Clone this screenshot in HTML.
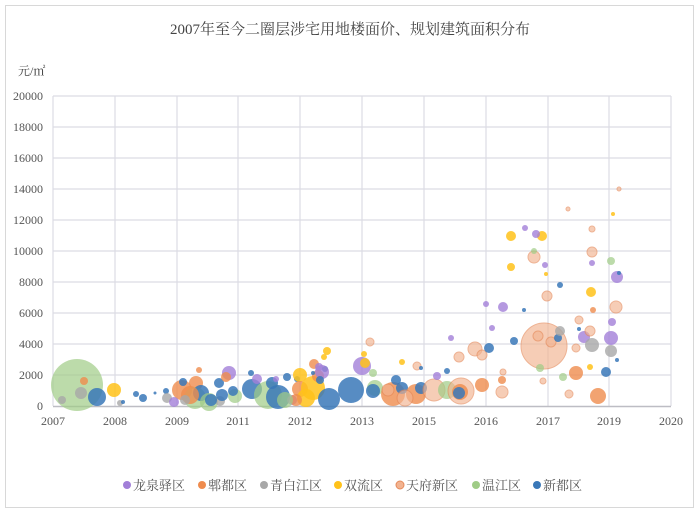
<!DOCTYPE html>
<html><head><meta charset="utf-8"><style>
body{margin:0;background:#fff;width:700px;height:512px;overflow:hidden;font-family:"Liberation Serif","Noto Serif CJK SC",serif;}
svg text{font-family:"Liberation Serif","Noto Serif CJK SC",serif;}
.p{fill:#a27fd8;opacity:.8}.o{fill:#ef8c4e;opacity:.8}.g{fill:#a8a8a8;opacity:.8}.y{fill:#ffc21a;opacity:.85}
.t{fill:#f2b390;opacity:.65;stroke:#e58a5a;stroke-width:1}.w{fill:#9fcc86;opacity:.7}.b{fill:#3a78b8;opacity:.85}
</style></head><body>
<svg width="700" height="512" xmlns="http://www.w3.org/2000/svg">
<rect x="5.5" y="5.5" width="688" height="502" fill="#fff" stroke="#d8d8d8"/>
<text x="350" y="34" text-anchor="middle" font-size="15" fill="#444">2007年至今二圈层涉宅用地楼面价、规划建筑面积分布</text>
<text x="18" y="75" font-size="12" fill="#444">元/㎡</text>
<g stroke="#dcdce4" stroke-width="1.2">
<line x1="53" y1="96" x2="671" y2="96"/><line x1="53" y1="127" x2="671" y2="127"/><line x1="53" y1="158" x2="671" y2="158"/><line x1="53" y1="189" x2="671" y2="189"/><line x1="53" y1="220" x2="671" y2="220"/><line x1="53" y1="251" x2="671" y2="251"/><line x1="53" y1="282" x2="671" y2="282"/><line x1="53" y1="313" x2="671" y2="313"/><line x1="53" y1="344" x2="671" y2="344"/><line x1="53" y1="375" x2="671" y2="375"/>
<line x1="53" y1="96" x2="53" y2="406"/><line x1="115" y1="96" x2="115" y2="406"/><line x1="177" y1="96" x2="177" y2="406"/><line x1="238" y1="96" x2="238" y2="406"/><line x1="300" y1="96" x2="300" y2="406"/><line x1="362" y1="96" x2="362" y2="406"/><line x1="424" y1="96" x2="424" y2="406"/><line x1="486" y1="96" x2="486" y2="406"/><line x1="548" y1="96" x2="548" y2="406"/><line x1="609" y1="96" x2="609" y2="406"/><line x1="671" y1="96" x2="671" y2="406"/>
</g>
<line x1="53" y1="406.5" x2="671" y2="406.5" stroke="#bdbdc4" stroke-width="1.5"/>
<g font-size="12" fill="#555" text-anchor="end">
<text x="43" y="100">20000</text><text x="43" y="131">18000</text><text x="43" y="162">16000</text><text x="43" y="193">14000</text><text x="43" y="224">12000</text><text x="43" y="255">10000</text><text x="43" y="286">8000</text><text x="43" y="317">6000</text><text x="43" y="348">4000</text><text x="43" y="379">2000</text><text x="43" y="410">0</text>
</g>
<g font-size="12" fill="#555" text-anchor="middle">
<text x="53" y="425">2007</text><text x="115" y="425">2008</text><text x="177" y="425">2009</text><text x="238" y="425">2011</text><text x="300" y="425">2012</text><text x="362" y="425">2013</text><text x="424" y="425">2015</text><text x="486" y="425">2016</text><text x="548" y="425">2017</text><text x="609" y="425">2019</text><text x="671" y="425">2020</text>
</g>
<g>
<circle class="w" cx="77" cy="385" r="26"/>
<circle class="g" cx="81" cy="393" r="6"/><circle class="o" cx="84" cy="381" r="4"/><circle class="g" cx="62" cy="400" r="4"/>
<circle class="b" cx="97" cy="397" r="9"/><circle class="y" cx="114" cy="390" r="7"/><circle class="g" cx="120" cy="403" r="3"/><circle class="b" cx="123" cy="402" r="2"/>
<circle class="b" cx="136" cy="394" r="3"/><circle class="b" cx="143" cy="398" r="4"/><circle class="b" cx="155" cy="393" r="1.5"/>
<circle class="b" cx="166" cy="391" r="3"/><circle class="g" cx="167" cy="398" r="5"/>
<circle class="o" cx="182" cy="390" r="10"/><circle class="b" cx="183" cy="382" r="4"/><circle class="o" cx="196" cy="383" r="7"/><circle class="o" cx="199" cy="370" r="3"/>
<circle class="w" cx="195" cy="398" r="11"/><circle class="p" cx="174" cy="402" r="5"/><circle class="b" cx="201" cy="393" r="8"/>
<circle class="o" cx="190" cy="395" r="9"/><circle class="w" cx="209" cy="402" r="9"/><circle class="g" cx="185" cy="400" r="5"/>
<circle class="g" cx="220" cy="401" r="5"/><circle class="b" cx="219" cy="383" r="5"/><circle class="b" cx="211" cy="400" r="6"/><circle class="b" cx="222" cy="395" r="6"/>
<circle class="p" cx="229" cy="373" r="7"/><circle class="o" cx="226" cy="377" r="5"/><circle class="w" cx="235" cy="396" r="7"/><circle class="b" cx="233" cy="391" r="5"/>
<circle class="b" cx="252" cy="389" r="10"/><circle class="b" cx="251" cy="373" r="3"/><circle class="p" cx="257" cy="379" r="5"/>
<circle class="w" cx="268" cy="395" r="14"/><circle class="b" cx="278" cy="397" r="12"/><circle class="b" cx="272" cy="383" r="6"/><circle class="p" cx="276" cy="379" r="3"/>
<circle class="b" cx="287" cy="377" r="4"/><circle class="b" cx="297" cy="379" r="3"/><circle class="p" cx="292" cy="400" r="5"/>
<circle class="y" cx="300" cy="375" r="7"/><circle class="o" cx="300" cy="389" r="8"/><circle class="y" cx="313" cy="388" r="12"/><circle class="o" cx="314" cy="364" r="5"/>
<circle class="y" cx="306" cy="398" r="9"/><circle class="o" cx="296" cy="400" r="6"/><circle class="w" cx="285" cy="400" r="8"/>
<circle class="p" cx="319" cy="367" r="4"/><circle class="b" cx="325" cy="369" r="3"/><circle class="y" cx="324" cy="357" r="3"/><circle class="y" cx="327" cy="351" r="4"/>
<circle class="o" cx="318" cy="376" r="6"/><circle class="p" cx="322" cy="372" r="7"/><circle class="b" cx="320" cy="380" r="4"/>
<circle class="b" cx="329" cy="399" r="11"/><circle class="b" cx="313" cy="373" r="2"/>
<circle class="b" cx="351" cy="390" r="13"/><circle class="w" cx="375" cy="388" r="8"/><circle class="b" cx="373" cy="391" r="7"/>
<circle class="p" cx="362" cy="366" r="9"/><circle class="y" cx="364" cy="354" r="3"/><circle class="y" cx="365" cy="363" r="5"/><circle class="w" cx="373" cy="373" r="4"/>
<circle class="t" cx="370" cy="342" r="4"/><circle class="o" cx="393" cy="394" r="12"/><circle class="t" cx="388" cy="390" r="6"/>
<circle class="b" cx="396" cy="380" r="5"/><circle class="b" cx="402" cy="388" r="6"/><circle class="y" cx="402" cy="362" r="3"/>
<circle class="o" cx="416" cy="394" r="10"/><circle class="t" cx="417" cy="366" r="4"/><circle class="b" cx="421" cy="388" r="6"/><circle class="b" cx="421" cy="368" r="2"/>
<circle class="t" cx="434" cy="390" r="11"/><circle class="p" cx="437" cy="376" r="4"/><circle class="b" cx="447" cy="371" r="3"/>
<circle class="w" cx="447" cy="390" r="9"/><circle class="t" cx="405" cy="398" r="8"/>
<circle class="t" cx="461" cy="391" r="13"/><circle class="o" cx="460" cy="392" r="8"/><circle class="b" cx="459" cy="393" r="6"/><circle class="p" cx="451" cy="338" r="3"/>
<circle class="t" cx="459" cy="357" r="5"/><circle class="t" cx="475" cy="349" r="7"/><circle class="t" cx="482" cy="355" r="5"/>
<circle class="o" cx="482" cy="385" r="7"/><circle class="b" cx="489" cy="348" r="5"/><circle class="p" cx="492" cy="328" r="3"/>
<circle class="t" cx="502" cy="392" r="6"/><circle class="o" cx="502" cy="380" r="4"/><circle class="t" cx="503" cy="372" r="3"/>
<circle class="p" cx="503" cy="307" r="5"/><circle class="p" cx="486" cy="304" r="3"/><circle class="b" cx="514" cy="341" r="4"/>
<circle class="y" cx="511" cy="267" r="4"/><circle class="y" cx="511" cy="236" r="5"/>
<circle class="t" cx="544" cy="346" r="23"/><circle class="t" cx="538" cy="336" r="5"/><circle class="t" cx="551" cy="342" r="5"/><circle class="w" cx="540" cy="368" r="4"/><circle class="b" cx="558" cy="338" r="4"/><circle class="g" cx="560" cy="331" r="5"/>
<circle class="t" cx="534" cy="257" r="6"/><circle class="w" cx="534" cy="251" r="3"/><circle class="p" cx="525" cy="228" r="3"/><circle class="y" cx="542" cy="236" r="5"/><circle class="p" cx="536" cy="234" r="4"/>
<circle class="p" cx="545" cy="265" r="3"/><circle class="y" cx="546" cy="274" r="2"/><circle class="b" cx="560" cy="285" r="3"/><circle class="t" cx="547" cy="296" r="5"/>
<circle class="b" cx="524" cy="310" r="2"/><circle class="t" cx="543" cy="381" r="3"/><circle class="t" cx="568" cy="209" r="2"/>
<circle class="t" cx="576" cy="348" r="4"/><circle class="o" cx="576" cy="373" r="7"/><circle class="t" cx="569" cy="394" r="4"/><circle class="w" cx="563" cy="377" r="4"/>
<circle class="t" cx="579" cy="320" r="4"/><circle class="b" cx="579" cy="329" r="2"/><circle class="p" cx="584" cy="337" r="6"/><circle class="g" cx="592" cy="345" r="7"/><circle class="t" cx="590" cy="331" r="5"/>
<circle class="t" cx="592" cy="252" r="5"/><circle class="p" cx="592" cy="263" r="3"/><circle class="y" cx="591" cy="292" r="5"/><circle class="o" cx="593" cy="310" r="3"/><circle class="y" cx="590" cy="367" r="3"/>
<circle class="o" cx="598" cy="396" r="8"/><circle class="t" cx="592" cy="229" r="3"/>
<circle class="w" cx="611" cy="261" r="4"/><circle class="p" cx="617" cy="277" r="6"/><circle class="b" cx="619" cy="273" r="2"/>
<circle class="t" cx="616" cy="307" r="6"/><circle class="p" cx="612" cy="322" r="4"/><circle class="p" cx="611" cy="338" r="7"/><circle class="g" cx="611" cy="351" r="6"/>
<circle class="b" cx="606" cy="372" r="5"/><circle class="b" cx="617" cy="360" r="2"/><circle class="y" cx="613" cy="214" r="2"/><circle class="t" cx="619" cy="189" r="2"/>
</g>
<g font-size="13" fill="#555">
<circle cx="127" cy="485" r="4" fill="#a27fd8"/><text x="133" y="490">龙泉驿区</text>
<circle cx="202" cy="485" r="4" fill="#ef8c4e"/><text x="208" y="490">郫都区</text>
<circle cx="264" cy="485" r="4" fill="#a8a8a8"/><text x="270" y="490">青白江区</text>
<circle cx="338" cy="485" r="4" fill="#ffc21a"/><text x="344" y="490">双流区</text>
<circle cx="400" cy="485" r="4" fill="#f2b390" stroke="#e58a5a"/><text x="406" y="490">天府新区</text>
<circle cx="476" cy="485" r="4" fill="#9fcc86"/><text x="482" y="490">温江区</text>
<circle cx="537" cy="485" r="4" fill="#3a78b8"/><text x="543" y="490">新都区</text>
</g>
</svg>
</body></html>
